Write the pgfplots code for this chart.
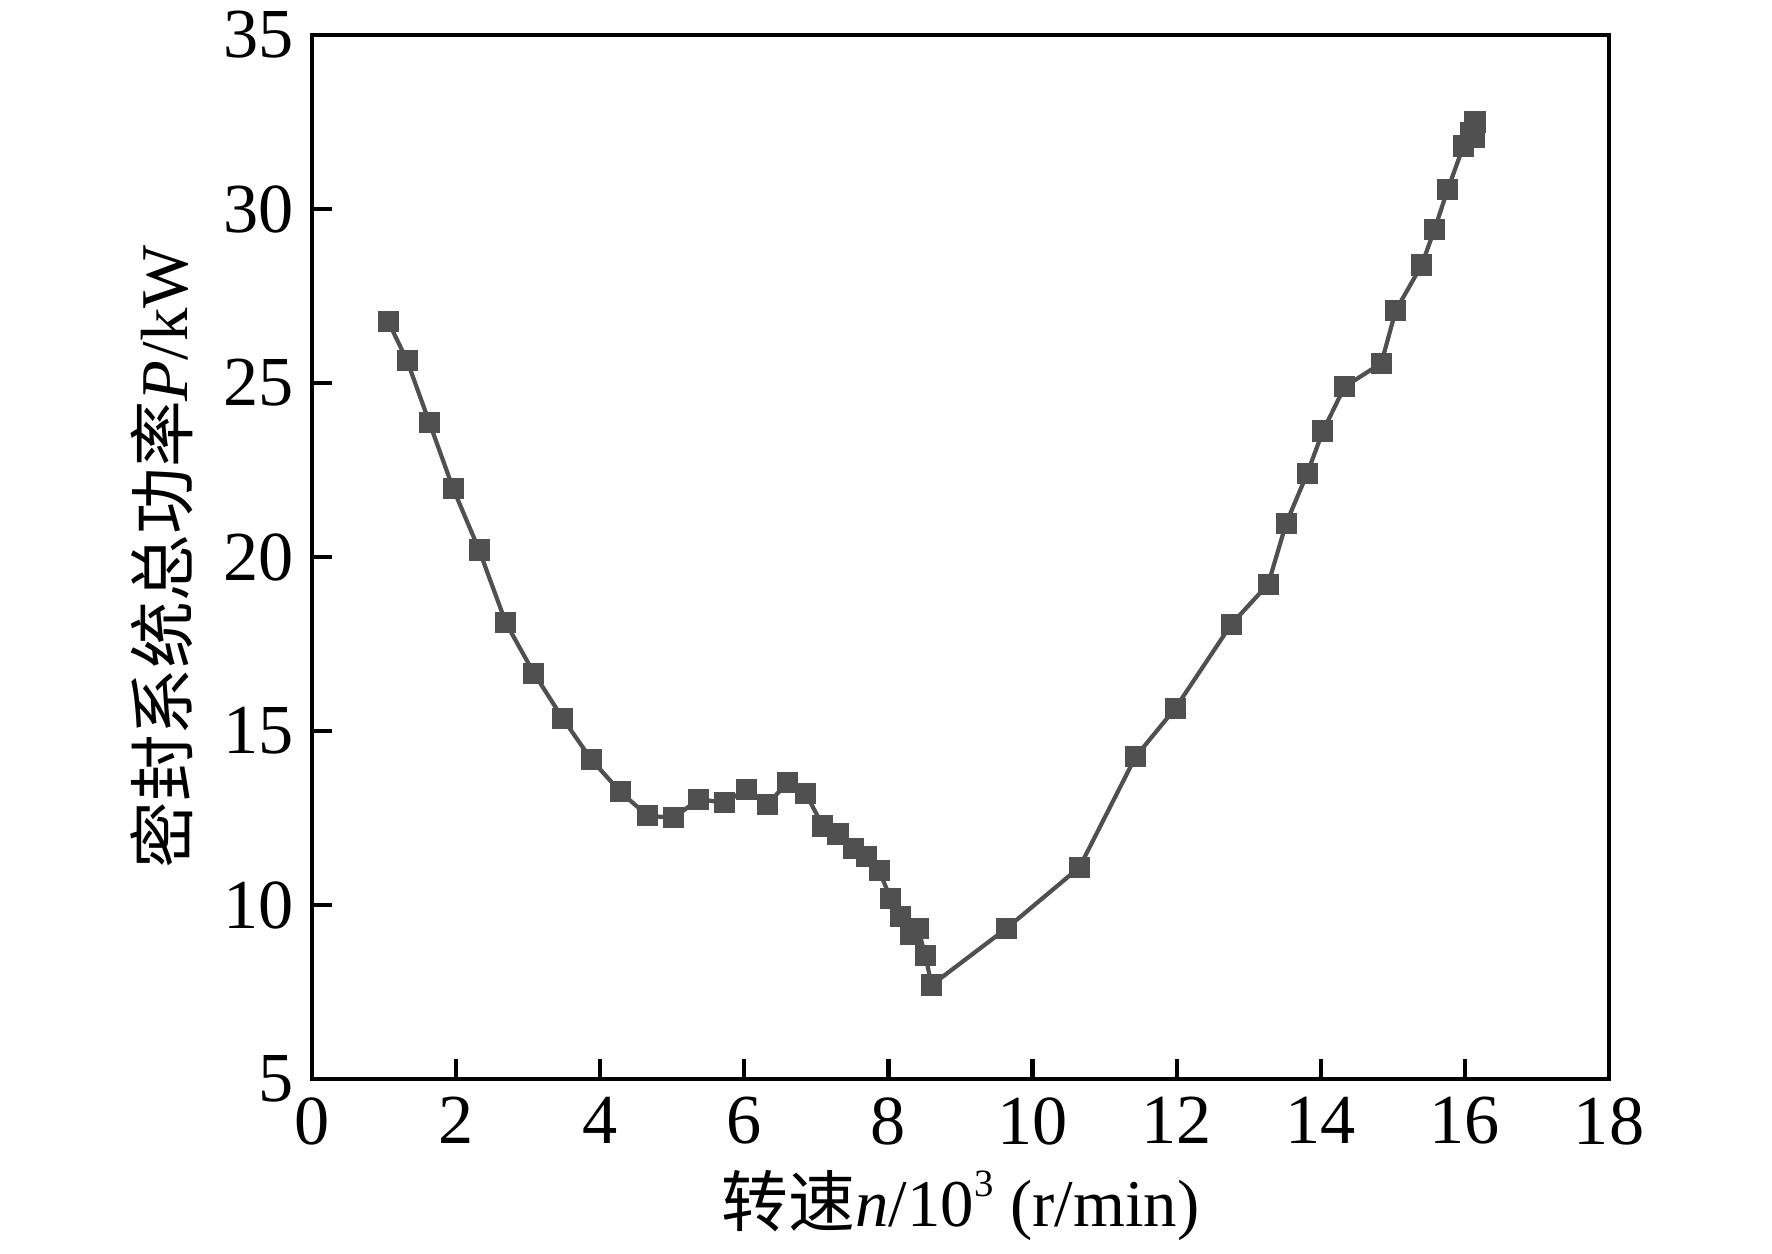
\documentclass[border=0pt]{standalone}
\usepackage{pgfplots}
\pgfplotsset{compat=1.18}
\usepackage{fontspec}
\setmainfont{Liberation Serif}
\newfontfamily\cjk{Noto Sans CJK SC}
\definecolor{ser}{HTML}{505050}
\begin{document}
\begin{tikzpicture}
\begin{axis}[
  scale only axis,
  width=12.97cm, height=10.44cm,
  xmin=0, xmax=18, ymin=5, ymax=35,
  xtick={0,2,...,18}, ytick={5,10,...,35},
  tick align=inside,
  xtick pos=left, ytick pos=left,
  major tick length=0.2cm,
  minor tick num=0,
  axis line style={line width=1.2pt},
  every tick/.style={line width=1.2pt, black},
  tick label style={font=\fontsize{20}{24}\selectfont},
  /pgf/number format/assume math mode=true,
  xticklabel style={yshift=-0.06cm},
  yticklabel style={xshift=-0.06cm},
  xlabel={{\cjk 转速}\textit{n}/10{\raisebox{0.45em}{\fontsize{11}{12}\selectfont 3}} (r/min)},
  ylabel={{\cjk 密封系统总功率}\textit{P}/kW},
  every axis x label/.style={at={(axis description cs:0.5,0)}, anchor=base, yshift=-1.48cm, font=\fontsize{19}{23}\selectfont},
  every axis y label/.style={at={([xshift=-1.50cm]axis description cs:0,0.5)}, anchor=center, rotate=90, font=\fontsize{19}{23}\selectfont},
  clip=false,
]
\addplot[color=ser, line width=1.2pt, mark=square*, mark size=2.85pt,
  mark options={fill=ser, draw=ser, line width=0.3pt, rounded corners=0.6pt}]
coordinates {
(1.06,26.76) (1.32,25.64) (1.63,23.86) (1.96,21.96) (2.32,20.20) (2.69,18.11)
(3.08,16.66) (3.48,15.36) (3.88,14.17) (4.28,13.25) (4.66,12.56) (5.02,12.51)
(5.37,13.04) (5.72,12.94) (6.03,13.32) (6.32,12.90) (6.60,13.51) (6.85,13.21)
(7.09,12.27) (7.30,12.04) (7.52,11.63) (7.70,11.39) (7.87,10.99) (8.03,10.19)
(8.17,9.66) (8.30,9.14) (8.41,9.33) (8.51,8.56) (8.60,7.70) (9.64,9.33)
(10.65,11.08) (11.43,14.26) (11.98,15.65) (12.76,18.07) (13.27,19.22)
(13.52,20.97) (13.81,22.39) (14.03,23.62) (14.33,24.89) (14.84,25.57)
(15.04,27.08) (15.40,28.39) (15.58,29.42) (15.76,30.55) (15.98,31.81)
(16.08,32.20) (16.13,32.05) (16.14,32.50)
};
\end{axis}
\pgfresetboundingbox
\useasboundingbox (-3.12,-1.75) rectangle (14.60,10.79);
\end{tikzpicture}
\end{document}
